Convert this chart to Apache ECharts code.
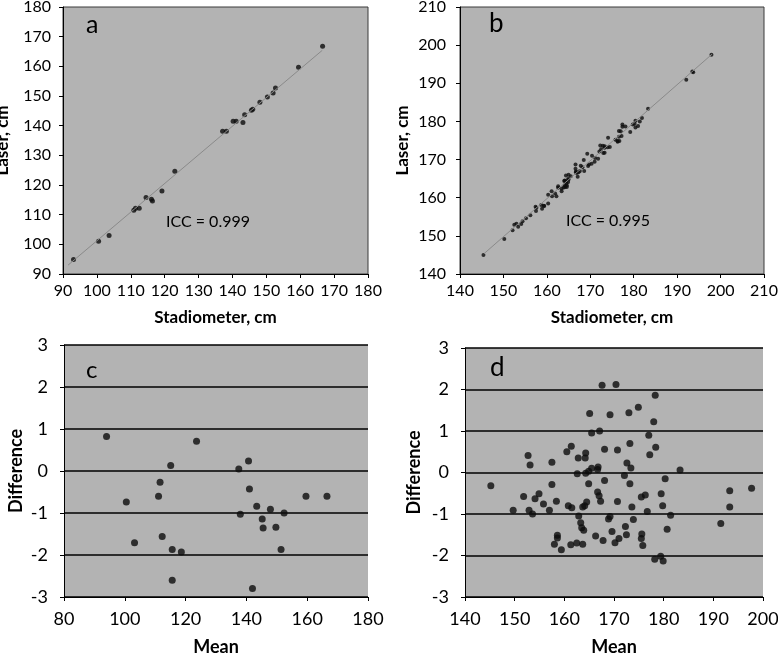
<!DOCTYPE html>
<html><head><meta charset="utf-8">
<script src="https://cdn.jsdelivr.net/npm/echarts@6/dist/echarts.min.js"></script>
<style>html,body{margin:0;padding:0;background:#fff}#c{width:778px;height:657px}</style>
</head><body><div id="c"></div>
<script>
// Panel a: stadiometer vs laser (children)
const stadA  = [93.1,100.5,103.6,110.9,111.4,112.5,114.5,116.1,116.4,119.2,123.0,137.1,138.2,140.2,141.1,143.1,143.6,145.6,146.0,148.1,150.3,152.0,152.7,159.5,166.6];
const laserA = [94.9,101.0,103.0,111.5,112.2,112.2,115.8,115.2,114.6,118.0,124.6,138.1,138.1,141.5,141.5,141.1,143.7,145.2,145.5,147.9,149.7,151.0,152.7,159.7,166.8];
const fitA = [[91.5,93.0],[166.5,165.4]];

// Panel b: stadiometer vs laser (adults)
const stadB  = [145.4,150.2,152.1,152.5,153.4,153.0,154.1,154.4,155.2,156.2,157.5,157.4,157.6,158.9,158.7,159.4,159.3,160.3,160.3,161.2,161.1,161.9,162.2,163.4,162.6,162.6,163.4,163.9,164.2,164.6,164.6,164.1,164.5,164.1,164.0,164.3,164.9,164.9,165.0,164.4,165.0,165.5,167.1,166.7,166.7,166.9,167.3,166.6,167.6,166.6,168.6,167.8,168.2,169.5,168.5,169.7,170.3,171.0,169.3,170.4,171.1,171.8,172.1,173.0,173.3,172.5,172.3,172.9,173.3,173.3,174.0,174.5,174.1,175.8,176.3,176.3,176.7,176.6,177.2,176.6,177.0,177.4,177.4,179.2,178.1,179.8,180.4,180.2,181.0,180.4,181.4,181.9,183.3,192.1,193.5,193.7,197.9];
const laserB = [145.0,149.2,151.5,152.9,152.4,153.2,153.1,153.8,154.6,155.4,156.5,157.6,157.4,157.1,158.1,157.8,157.9,158.5,160.8,160.4,161.7,161.1,160.4,161.7,162.6,163.0,162.4,162.7,162.8,162.8,163.2,163.3,163.7,164.5,164.4,164.3,164.1,164.9,164.8,165.8,166.0,165.6,165.5,166.7,166.9,166.5,166.7,167.6,167.0,168.7,167.0,168.4,168.0,168.3,169.9,168.7,168.9,169.4,171.5,171.0,170.4,170.2,172.1,171.7,171.8,172.7,173.7,173.6,173.1,173.5,173.2,173.3,175.7,175.2,174.9,174.7,174.9,176.0,176.2,177.5,177.4,178.6,179.2,177.2,178.7,179.2,178.4,179.4,178.8,180.2,180.0,180.9,183.3,190.9,193.1,192.9,197.5];
const fitB = [[145.5,145.3],[198.0,197.6]];

// Panel c: Bland-Altman (children)
const meanC = [94.0,100.5,103.2,111.1,111.6,112.3,115.1,115.6,115.6,118.6,123.6,137.5,138.0,140.7,141.0,142.0,143.4,145.2,145.5,147.9,149.7,151.4,152.4,159.6,166.5];
const diffC = [0.82,-0.74,-1.71,-0.60,-0.27,-1.56,0.13,-1.87,-2.60,-1.93,0.71,0.05,-1.03,0.24,-0.43,-2.80,-0.84,-1.14,-1.36,-0.91,-1.34,-1.87,-1.00,-0.60,-0.60];

// Panel d: Bland-Altman (adults)
const meanD = [145.2,149.7,151.8,152.7,152.9,153.1,153.6,154.1,154.9,155.8,157.0,157.5,157.5,158.0,158.4,158.6,158.6,159.4,160.5,160.8,161.4,161.5,161.3,162.5,162.6,162.8,162.9,163.3,163.5,163.7,163.9,163.7,164.1,164.3,164.2,164.3,164.5,164.9,164.9,165.1,165.5,165.5,166.3,166.7,166.8,166.7,167.0,167.1,167.3,167.6,167.8,168.1,168.1,168.9,169.2,169.2,169.6,170.2,170.4,170.7,170.7,171.0,172.1,172.3,172.5,172.6,173.0,173.2,173.2,173.4,173.6,173.9,174.9,175.5,175.6,175.5,175.8,176.3,176.7,177.0,177.2,178.0,178.3,178.2,178.4,179.5,179.4,179.8,179.9,180.3,180.7,181.4,183.3,191.5,193.3,193.3,197.7];
const diffD = [-0.32,-0.91,-0.58,0.41,-0.91,0.18,-1.00,-0.63,-0.51,-0.76,-0.91,0.25,-0.29,-1.73,-0.69,-1.51,-1.58,-1.86,0.50,-0.80,0.63,-0.85,-1.74,-1.70,-0.03,0.35,-1.05,-1.21,-1.33,-1.73,-1.39,-0.83,-0.80,0.47,0.35,-0.02,-0.71,0.03,-0.27,1.42,0.95,0.10,-1.53,0.07,0.13,-0.47,-0.56,1.00,-0.69,2.10,-1.64,0.56,-0.19,-1.12,1.39,-1.06,-1.42,-1.69,2.12,0.54,-0.70,-1.59,-0.07,-1.30,-1.50,0.23,1.44,0.70,-0.27,0.11,-0.83,-1.13,1.57,-0.59,-1.48,-1.59,-1.76,-0.54,-0.94,0.90,0.43,1.22,1.86,-2.09,0.61,-0.51,-2.02,-0.80,-2.13,-0.15,-1.37,-1.03,0.06,-1.23,-0.44,-0.83,-0.38];

const zip = (a, b) => a.map((v, i) => [v, b[i]]);
const FONT = 'Lato';
const BG = '#b3b3b3';

const grids = [
  {left: 63, right: 410, top: 7, bottom: 383},
  {left: 460, right: 14, top: 7, bottom: 383},
  {left: 64, right: 410, top: 345, bottom: 60},
  {left: 465, right: 15, top: 348, bottom: 60}
].map((g, i) => Object.assign({
  show: true, backgroundColor: BG,
  borderColor: i < 2 ? '#3a3a3a' : 'transparent', borderWidth: i < 2 ? 1 : 0,
  containLabel: false, outerBoundsMode: 'none'
}, g));

function xAxis(idx, min, max, interval, name, margin, nameGap, fs, nfs) {
  return {
    gridIndex: idx, type: 'value', min, max, interval,
    name, nameLocation: 'middle', nameGap,
    nameTextStyle: {fontFamily: FONT, fontWeight: 'bold', fontSize: nfs, color: '#000'},
    axisLine: {show: true, onZero: false, lineStyle: {color: '#000', width: 1}},
    axisTick: {show: true, inside: false, length: 4, lineStyle: {color: '#000'}},
    axisLabel: {fontFamily: FONT, fontSize: fs, color: '#000', margin},
    splitLine: {show: false}
  };
}
function yAxis(idx, min, max, interval, name, margin, nameGap, grid, fs, nfs) {
  return {
    gridIndex: idx, type: 'value', min, max, interval,
    name, nameLocation: 'middle', nameGap,
    nameTextStyle: {fontFamily: FONT, fontWeight: 'bold', fontSize: nfs, color: '#000'},
    axisLine: {show: true, onZero: false, lineStyle: {color: '#000', width: 1}},
    axisTick: {show: true, inside: false, length: 4, lineStyle: {color: '#000'}},
    axisLabel: {fontFamily: FONT, fontSize: fs, color: '#000', margin},
    splitLine: {show: grid, lineStyle: {color: '#000', width: 1.5}}
  };
}

const option = {
  animation: false,
  backgroundColor: '#fff',
  grid: grids,
  xAxis: [
    xAxis(0, 90, 180, 10, 'Stadiometer, cm', 9, 35, 16, 17),
    xAxis(1, 140, 210, 10, 'Stadiometer, cm', 9, 35, 16, 17),
    xAxis(2, 80, 180, 20, 'Mean', 13, 41, 18, 18),
    xAxis(3, 140, 200, 10, 'Mean', 13, 41, 18, 18)
  ],
  yAxis: [
    yAxis(0, 90, 180, 10, 'Laser, cm', 12, 52, false, 16, 17),
    yAxis(1, 140, 210, 10, 'Laser, cm', 14, 49, false, 16, 17),
    yAxis(2, -3, 3, 1, 'Difference', 16, 39, true, 18, 18),
    yAxis(3, -3, 3, 1, 'Difference', 16, 42, true, 18, 18)
  ],
  series: [
    {type: 'line', xAxisIndex: 0, yAxisIndex: 0, data: fitA, symbol: 'none', lineStyle: {color: '#8a8a8a', width: 1}, silent: true},
    {type: 'scatter', xAxisIndex: 0, yAxisIndex: 0, data: zip(stadA, laserA), symbolSize: 5, itemStyle: {color: '#0d0d0d'}},
    {type: 'line', xAxisIndex: 1, yAxisIndex: 1, data: fitB, symbol: 'none', lineStyle: {color: '#8a8a8a', width: 1}, silent: true},
    {type: 'scatter', xAxisIndex: 1, yAxisIndex: 1, data: zip(stadB, laserB), symbolSize: 4, itemStyle: {color: '#0d0d0d'}},
    {type: 'scatter', xAxisIndex: 2, yAxisIndex: 2, data: zip(meanC, diffC), symbolSize: 7, itemStyle: {color: '#0d0d0d'}},
    {type: 'scatter', xAxisIndex: 3, yAxisIndex: 3, data: zip(meanD, diffD), symbolSize: 7, itemStyle: {color: '#0d0d0d'}}
  ],
  graphic: [
    {type: 'text', left: 86, top: 12, style: {text: 'a', font: '25px Lato', fill: '#000'}},
    {type: 'text', left: 489, top: 11, style: {text: 'b', font: '26px Lato', fill: '#000'}},
    {type: 'text', left: 86, top: 358, style: {text: 'c', font: '24px Lato', fill: '#000'}},
    {type: 'text', left: 490, top: 355, style: {text: 'd', font: '26px Lato', fill: '#000'}},
    {type: 'text', left: 166, top: 214, style: {text: 'ICC = 0.999', font: '16px Lato', fill: '#000'}},
    {type: 'text', left: 566, top: 213, style: {text: 'ICC = 0.995', font: '16px Lato', fill: '#000'}}
  ]
};
echarts.init(document.getElementById('c'), null, {renderer: 'canvas'}).setOption(option);
</script>
</body></html>
